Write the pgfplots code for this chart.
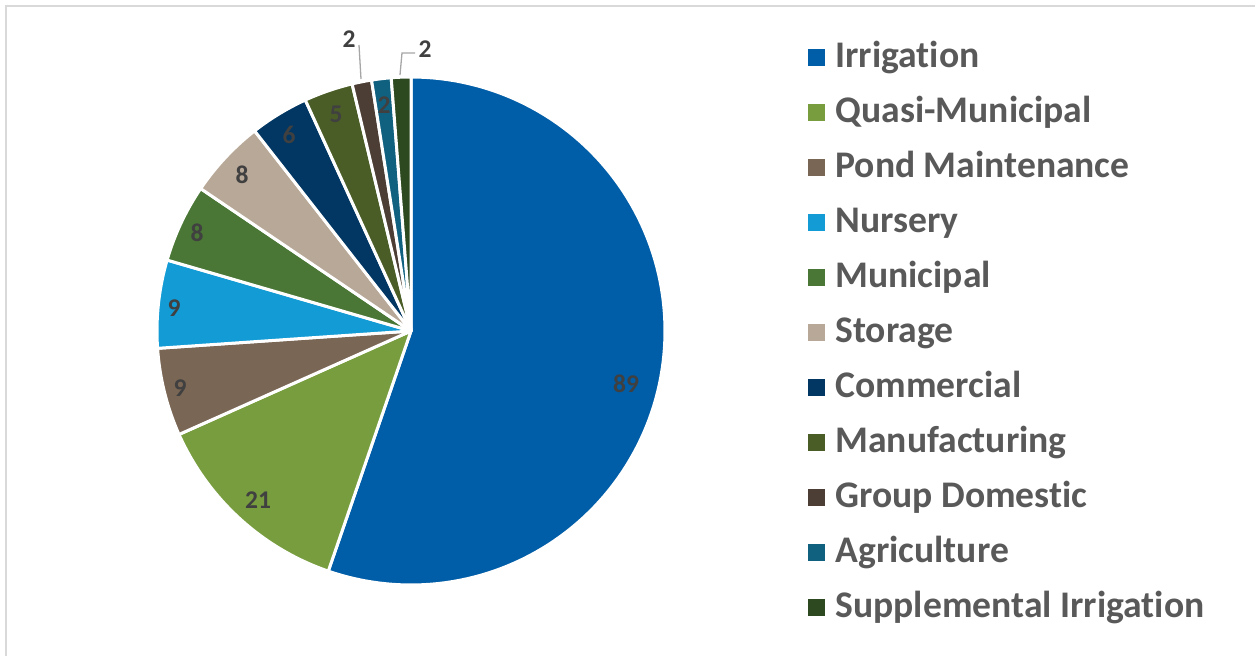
\documentclass[border=0pt]{standalone}
\usepackage{fontspec}
\setmainfont{Carlito}[Ligatures={NoCommon}]
\usepackage{pgfplots}
\pgfplotsset{compat=1.18}
\definecolor{cIrr}{HTML}{005DA8}
\definecolor{cQuasi}{HTML}{789D3E}
\definecolor{cPond}{HTML}{7A6654}
\definecolor{cNurs}{HTML}{129BD5}
\definecolor{cMuni}{HTML}{4A7736}
\definecolor{cStor}{HTML}{B8A898}
\definecolor{cComm}{HTML}{013762}
\definecolor{cManu}{HTML}{4A5D26}
\definecolor{cGrp}{HTML}{4C3E34}
\definecolor{cAgri}{HTML}{106080}
\definecolor{cSupp}{HTML}{2C4920}
\definecolor{lblgray}{HTML}{404040}
\definecolor{leggray}{HTML}{595959}
\definecolor{framegray}{HTML}{D9D9D9}
\definecolor{leadgray}{HTML}{A6A6A6}
% #1 cumulative count before the slice, #2 value, #3 colour, #4 name (total 161)
\newcommand{\slice}[4]{%
  \addplot[fill=#3, draw=white, line width=3bp, line join=round,
    domain={90-(#1+#2)*360/161}:{90-(#1)*360/161}, samples=120, variable=\t]
    ({411+254*cos(\t)},{325+254*sin(\t)}) -- (axis cs:411,325) -- cycle;
  \addlegendentry{#4}%
}
\begin{document}
\begin{tikzpicture}
\useasboundingbox (0,0) rectangle (1255bp,656bp);
\begin{axis}[
  at={(0,0)}, anchor=south west,
  width=1255bp, height=656bp, scale only axis,
  xmin=0, xmax=1255, ymin=0, ymax=656,
  hide axis, clip=false,
  legend cell align=left,
  legend style={at={(axis description cs:0.6438,0.9345)}, anchor=north west,
    draw=none, fill=none, inner sep=0pt, outer sep=0pt,
    font=\fontsize{37.6bp}{40bp}\selectfont\bfseries, text=leggray,
    row sep=21bp, column sep=10.5bp,
    nodes={inner sep=0pt, text height=25bp, text depth=9bp}},
  legend image code/.code={\fill[#1, draw=none] (0bp,-6.5bp) rectangle (17bp,10.5bp);},
]
\draw[color=framegray, line width=2bp] (axis cs:6,-10) -- (axis cs:6,650) -- (axis cs:1270,650);
\slice{0}{89}{cIrr}{Irrigation}
\slice{89}{21}{cQuasi}{Quasi-Municipal}
\slice{110}{9}{cPond}{Pond Maintenance}
\slice{119}{9}{cNurs}{Nursery}
\slice{128}{8}{cMuni}{Municipal}
\slice{136}{8}{cStor}{Storage}
\slice{144}{6}{cComm}{Commercial}
\slice{150}{5}{cManu}{Manufacturing}
\slice{155}{2}{cGrp}{Group Domestic}
\slice{157}{2}{cAgri}{Agriculture}
\slice{159}{2}{cSupp}{Supplemental Irrigation}
\begin{scope}[every node/.style={font=\fontsize{25.5bp}{27bp}\selectfont\bfseries, text=lblgray, inner sep=0pt}]
\node at (axis cs:626,272) {89};
\node at (axis cs:258,156) {21};
\node at (axis cs:180,268) {9};
\node at (axis cs:174,348) {9};
\node at (axis cs:197,423) {8};
\node at (axis cs:242,481) {8};
\node at (axis cs:289,521) {6};
\node at (axis cs:336,542) {5};
\node at (axis cs:384,551) {2};
\node at (axis cs:349,617) {2};
\node at (axis cs:425,607) {2};
\end{scope}
\draw[color=leadgray, line width=1.3bp] (axis cs:359,611) -- (axis cs:361,577);
\draw[color=leadgray, line width=1.3bp] (axis cs:415,603) -- (axis cs:402,603) -- (axis cs:400,581);
\end{axis}
\end{tikzpicture}
\end{document}
